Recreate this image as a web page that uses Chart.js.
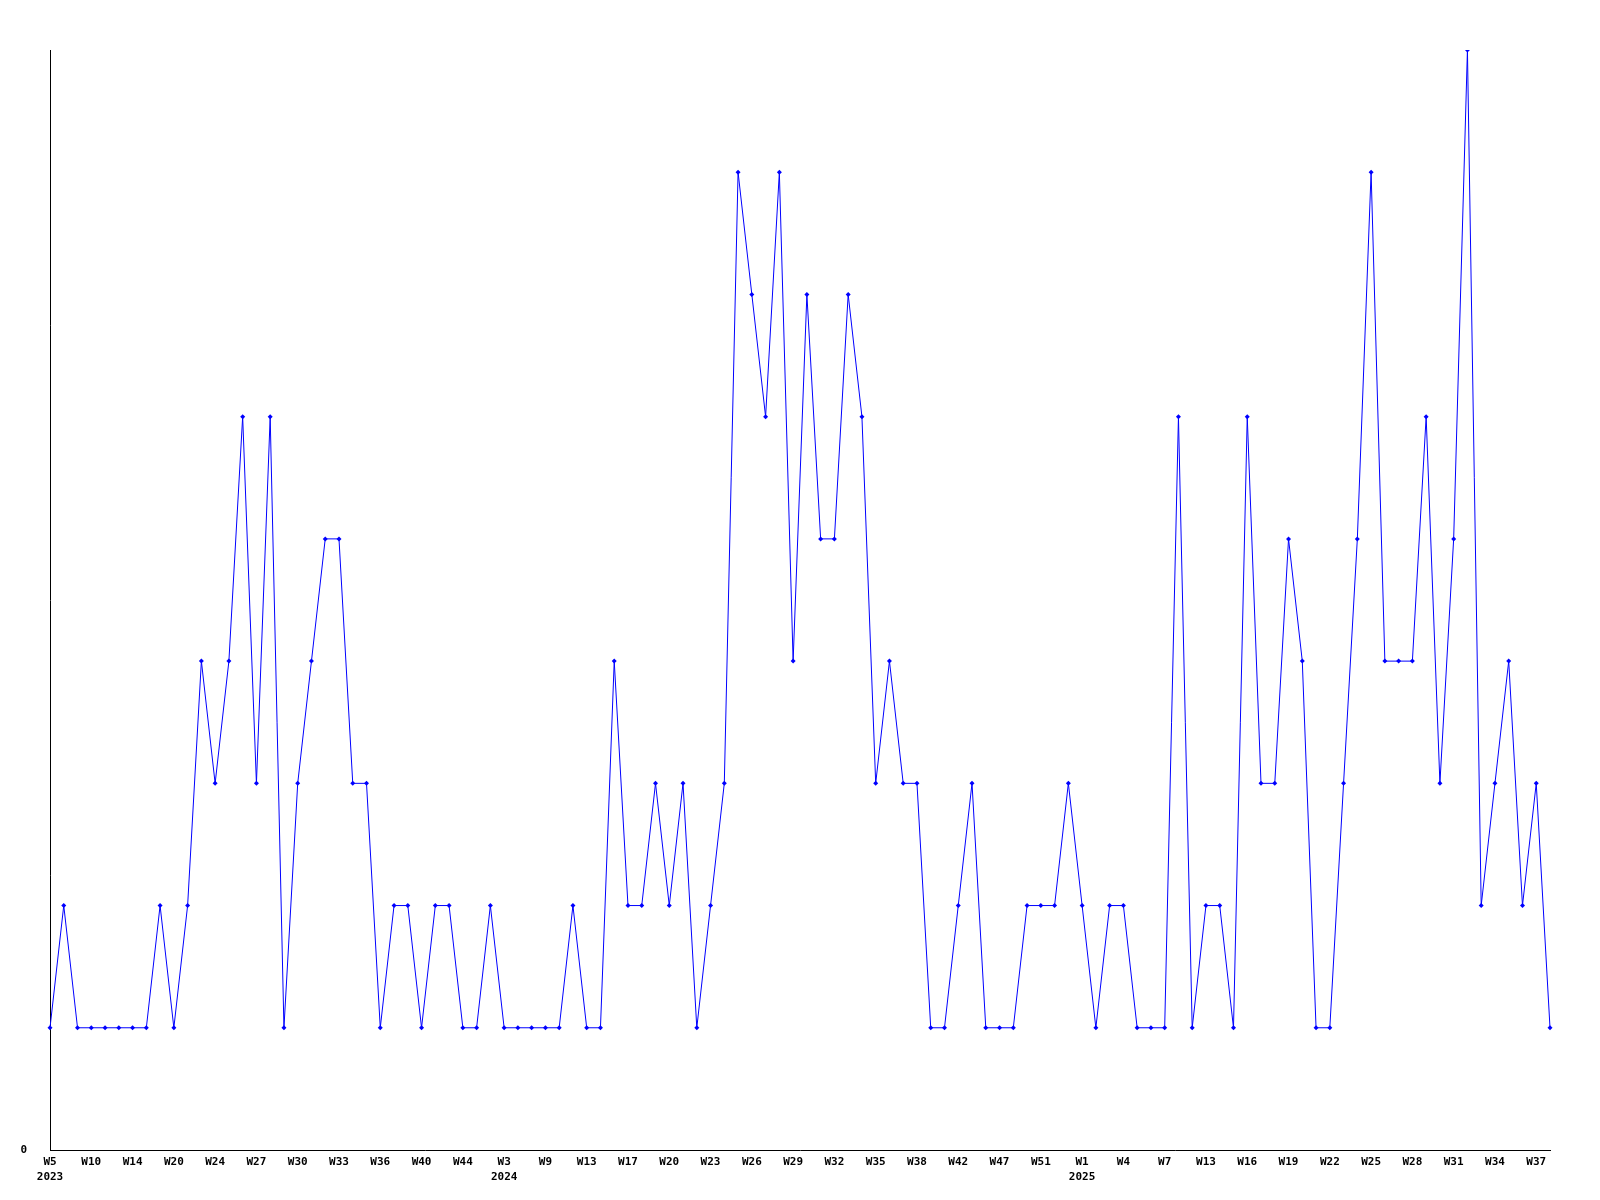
<!DOCTYPE html>
<html>
<head>
<meta charset="utf-8">
<script src="https://cdn.jsdelivr.net/npm/chart.js@4/dist/chart.umd.min.js"></script>
<style>
  html, body { margin: 0; padding: 0; background: #fff; }
  canvas { display: block; }
</style>
</head>
<body>
<canvas id="weeklyChart" width="1600" height="1200"></canvas>
<script>
// week of each point (weeks without any entry are missing)
const weeks = [
  "W5", "W6", "W8", "W10", "W11", "W12", "W14", "W16", "W18", "W20",
  "W21", "W23", "W24", "W25", "W26", "W27", "W28", "W29", "W30", "W31",
  "W32", "W33", "W34", "W35", "W36", "W37", "W38", "W40", "W41", "W43",
  "W44", "W46", "W49",
  "W3", "W5", "W7", "W9", "W10", "W11", "W13", "W14", "W16", "W17",
  "W18", "W19", "W20", "W21", "W22", "W23", "W24", "W25", "W26", "W27",
  "W28", "W29", "W30", "W31", "W32", "W33", "W34", "W35", "W36", "W37",
  "W38", "W39", "W40", "W42", "W44", "W45", "W47", "W48", "W49", "W51",
  "W52", "W53",
  "W1", "W2", "W3", "W4", "W5", "W6", "W7", "W9", "W11", "W13",
  "W14", "W15", "W16", "W17", "W18", "W19", "W20", "W21", "W22", "W23",
  "W24", "W25", "W26", "W27", "W28", "W29", "W30", "W31", "W32", "W33",
  "W34", "W35", "W36", "W37", "W38"
];

// index of the first point of each year
const yearStarts = { 0: "2023", 33: "2024", 75: "2025" };

// count per week
const counts = [
  1, 2, 1, 1, 1, 1, 1, 1, 2, 1,
  2, 4, 3, 4, 6, 3, 6, 1, 3, 4,
  5, 5, 3, 3, 1, 2, 2, 1, 2, 2,
  1, 1, 2, 1, 1, 1, 1, 1, 2, 1,
  1, 4, 2, 2, 3, 2, 3, 1, 2, 3,
  8, 7, 6, 8, 4, 7, 5, 5, 7, 6,
  3, 4, 3, 3, 1, 1, 2, 3, 1, 1,
  1, 2, 2, 2, 3, 2, 1, 2, 2, 1,
  1, 1, 6, 1, 2, 2, 1, 6, 3, 3,
  5, 4, 1, 1, 3, 5, 8, 4, 4, 4,
  6, 3, 5, 9, 2, 3, 4, 2, 3, 1
];

// week label, with the year under the first week of a year
const labels = weeks.map((w, i) => yearStarts[i] ? [w, yearStarts[i]] : w);

const tickFont = { family: "'DejaVu Sans Mono', monospace", size: 11, weight: "bold", lineHeight: 1.35 };

new Chart(document.querySelector("#weeklyChart"), {
  type: "line",
  data: {
    labels: labels,
    datasets: [{
      data: counts,
      borderColor: "#0000ff",
      backgroundColor: "#0000ff",
      borderWidth: 1,
      tension: 0,
      pointStyle: "rectRot",
      pointRadius: 2.5,
      pointBorderWidth: 0,
      pointBackgroundColor: "#0000ff",
    }]
  },
  options: {
    responsive: false,
    animation: false,
    devicePixelRatio: 1,
    layout: { padding: { top: 50, right: 50, left: 0, bottom: 0 } },
    plugins: {
      legend: { display: false },
      tooltip: { enabled: false },
    },
    scales: {
      x: {
        offset: false,
        grid: { display: false },
        border: { display: true, color: "#000", width: 1 },
        ticks: {
          color: "#000",
          font: tickFont,
          autoSkip: false,
          maxRotation: 0,
          minRotation: 0,
          padding: -3,
          // show every third week only
          callback: function (value, index) {
            return index % 3 === 0 ? this.getLabelForValue(value) : null;
          },
        },
        afterFit: (scale) => { scale.height = 50; },
      },
      y: {
        min: 0,
        max: 9,
        grid: { display: false },
        border: { display: true, color: "#000", width: 1 },
        ticks: {
          color: "#000",
          font: tickFont,
          stepSize: 9,
          padding: 15,
          callback: (v) => v === 0 ? "0" : null,
        },
        afterFit: (scale) => { scale.width = 50; },
      }
    }
  }
});
</script>
</body>
</html>
